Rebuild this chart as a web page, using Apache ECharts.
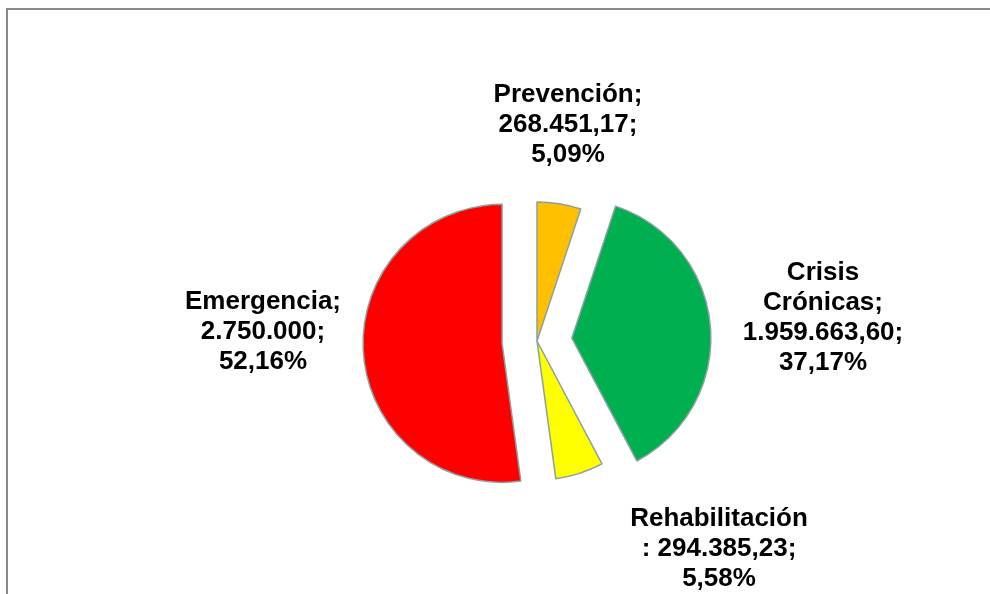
<!DOCTYPE html>
<html>
<head>
<meta charset="utf-8">
<script src="https://cdn.jsdelivr.net/npm/echarts@6/dist/echarts.min.js"></script>
<style>
html, body { margin: 0; padding: 0; background: #fff; }
#chart { width: 990px; height: 594px; }
</style>
</head>
<body>
<div id="chart"></div>
<script>
// datos del gráfico
var categorias = ['Prevención', 'Crisis Crónicas', 'Rehabilitación', 'Emergencia'];
var valores = [268451.17, 1959663.60, 294385.23, 2750000];
var colores = ['#FFC000', '#00B050', '#FFFF00', '#FF0000'];
var separados = [false, true, false, true];
// cabecera de cada etiqueta tal como sale en la imagen
var cabeceras = ['Prevención;', 'Crisis\nCrónicas;', 'Rehabilitación\n:', 'Emergencia;'];

// posición de las etiquetas (centro del bloque de texto)
var posEtiquetas = [[568, 125], [823, 318], [719, 549], [263, 332]];

var centro = [537, 341];
var radio = 139;
var separacion = 35;

var total = valores.reduce(function (a, b) { return a + b; }, 0);

function miles(n) {
    var s = String(n);
    return s.replace(/\B(?=(\d{3})+(?!\d))/g, '.');
}
function formatoNumero(v) {
    if (Math.round(v) === v) {
        return miles(v);
    }
    var partes = v.toFixed(2).split('.');
    return miles(partes[0]) + ',' + partes[1];
}

var chart = echarts.init(document.getElementById('chart'));

// una serie por sector: así cada sector separado tiene su propio centro
var series = [];
var acumulado = 0;
categorias.forEach(function (cat, k) {
    var medio = (acumulado + valores[k] / 2) / total * 2 * Math.PI;
    acumulado += valores[k];
    var d = separados[k] ? separacion : 0;
    var c = [centro[0] + d * Math.sin(medio), centro[1] - d * Math.cos(medio)];
    series.push({
        type: 'pie',
        center: c,
        radius: radio,
        startAngle: 90,
        clockwise: true,
        avoidLabelOverlap: false,
        emphasis: { disabled: true },
        labelLine: { show: false },
        labelLayout: function () {
            return { x: posEtiquetas[k][0], y: posEtiquetas[k][1], align: 'center', verticalAlign: 'middle' };
        },
        data: categorias.map(function (n, i) {
            var visible = i === k;
            return {
                name: n,
                value: valores[i],
                itemStyle: visible
                    ? { color: colores[i], borderColor: '#8BA0A0', borderWidth: 1.5 }
                    : { color: 'rgba(0,0,0,0)', borderWidth: 0 },
                label: visible ? {
                    show: true,
                    position: 'outside',
                    fontFamily: 'Liberation Sans, Arial, sans-serif',
                    fontWeight: 'bold',
                    fontSize: 26,
                    lineHeight: 30,
                    color: '#000',
                    align: 'center',
                    formatter: function (p) {
                        var cab = cabeceras[p.dataIndex];
                        var sep = cab.slice(-1) === ':' ? ' ' : '\n';
                        var pct = (p.value / total * 100).toFixed(2).replace('.', ',');
                        return cab + sep + formatoNumero(p.value) + ';\n' + pct + '%';
                    }
                } : { show: false }
            };
        })
    });
});

var option = {
    animation: false,
    backgroundColor: '#fff',
    graphic: [{
        type: 'rect',
        shape: { x: 7, y: 9, width: 1000, height: 620 },
        style: { fill: 'none', stroke: '#8a8a8a', lineWidth: 2 },
        silent: true
    }],
    series: series
};

chart.setOption(option);
</script>
</body>
</html>
